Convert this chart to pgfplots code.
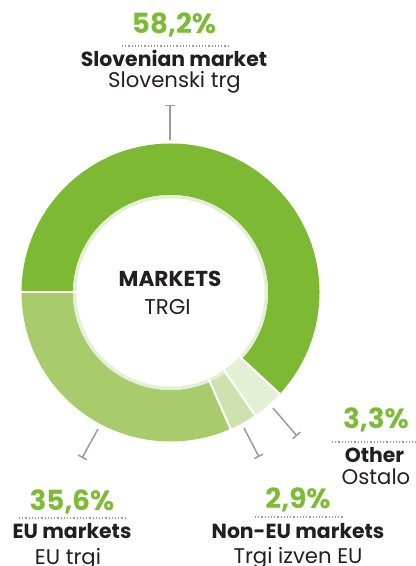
\documentclass[border=0pt]{standalone}
\usepackage{pgfplots}
\pgfplotsset{compat=1.18}
\usepackage{pgfplotstable}
\usepackage{fontspec}
\setmainfont{Poppins}
\usetikzlibrary{calc,arrows.meta}
\definecolor{cSlo}{HTML}{7DB933}
\definecolor{cEU}{HTML}{A8CC6C}
\definecolor{cNon}{HTML}{CDE2AE}
\definecolor{cOth}{HTML}{E4F0D6}
\definecolor{cRing}{HTML}{E4F0D6}
\definecolor{cPct}{HTML}{7DBB35}
\definecolor{cTxt}{HTML}{231F20}
\definecolor{cLead}{HTML}{9B9B9B}
\pgfplotstableread{
name share
Slovenian 61.9
Other 3.5
NonEU 3.0
EU 31.6
}\shares
\begin{document}
\begin{tikzpicture}
\pgfplotstablegetelem{0}{share}\of\shares \let\sA\pgfplotsretval
\pgfplotstablegetelem{1}{share}\of\shares \let\sB\pgfplotsretval
\pgfplotstablegetelem{2}{share}\of\shares \let\sC\pgfplotsretval
\pgfplotstablegetelem{3}{share}\of\shares \let\sD\pgfplotsretval
\pgfmathsetmacro\aA{180}
\pgfmathsetmacro\aB{\aA-3.6*\sA}
\pgfmathsetmacro\aC{\aB-3.6*\sB}
\pgfmathsetmacro\aD{\aC-3.6*\sC}
\pgfmathsetmacro\aE{\aD-3.6*\sD}
\def\Ro{74.5pt}
\def\Ri{48.75pt}
\def\Rw{47pt}
\newcommand\seg[3]{%
 \fill[#3] ($(axis cs:170.5,273.5)+(#1:\Ro)$) arc[start angle=#1, end angle=#2, radius=\Ro]
   -- ($(axis cs:170.5,273.5)+(#2:\Ri)$) arc[start angle=#2, end angle=#1, radius=\Ri] -- cycle;}
\newcommand\sep[1]{%
 \draw[white, line width=1pt] ($(axis cs:170.5,273.5)+(#1:\Rw)$) -- ($(axis cs:170.5,273.5)+(#1:\Ro+1pt)$);}
\begin{axis}[
  x=0.5pt, y=0.5pt,
  xmin=0, xmax=416, ymin=0, ymax=566,
  hide axis, clip=false,
  scale only axis,
]
\path[use as bounding box] (axis cs:0,0) rectangle (axis cs:416,566);
\seg{\aA}{\aB}{cSlo}
\seg{\aB}{\aC}{cOth}
\seg{\aC}{\aD}{cNon}
\seg{\aD}{\aE}{cEU}
\fill[cRing] (axis cs:170.5,273.5) circle[radius=\Ri];
\fill[white] (axis cs:170.5,273.5) circle[radius=\Rw];
\sep{\aA}\sep{\aB}\sep{\aC}\sep{\aD}
% leaders
\draw[cLead, line width=0.75pt, -{Bar[width=5pt, line width=0.75pt]}] (axis cs:170,426) -- (axis cs:170,461);
\draw[cLead, line width=0.75pt, -{Bar[width=5pt, line width=0.75pt]}] (axis cs:98,137) -- (axis cs:82,108);
\draw[cLead, line width=0.75pt, -{Bar[width=5pt, line width=0.75pt]}] (axis cs:244,138) -- (axis cs:259,109);
\draw[cLead, line width=0.75pt, -{Bar[width=5pt, line width=0.75pt]}] (axis cs:273,158) -- (axis cs:297,130);
% dotted rules
\tikzset{dotrule/.style={cLead, line width=0.55pt, dash pattern=on 0.55pt off 1.05pt}}
\draw[dotrule] (axis cs:122,520) -- (axis cs:228,520);
\draw[dotrule] (axis cs:332,124) -- (axis cs:416,124);
\draw[dotrule] (axis cs:255,49) -- (axis cs:344,49);
\draw[dotrule] (axis cs:19,48) -- (axis cs:125,48);
% texts
\tikzset{pct/.style={anchor=base, inner sep=0pt, text=cPct, font=\fontsize{13.9}{15}\selectfont\bfseries},
 lbl/.style={anchor=base, inner sep=0pt, text=cTxt, font=\fontsize{10.2}{12}\selectfont\bfseries},
 sub/.style={anchor=base, inner sep=0pt, text=cTxt, font=\fontsize{10.6}{12}\selectfont}}
\node[pct] at (axis cs:174,532) {58,2\%};
\node[lbl] at (axis cs:174,499) {Slovenian market};
\node[sub] at (axis cs:174.5,478) {Slovenski trg};
\node[pct] at (axis cs:376,137) {3,3\%};
\node[lbl] at (axis cs:374.5,103) {Other};
\node[sub] at (axis cs:376,81) {Ostalo};
\node[pct] at (axis cs:298,57) {2,9\%};
\node[lbl] at (axis cs:298,27) {Non-EU markets};
\node[sub] at (axis cs:298,3) {Trgi izven EU};
\node[pct] at (axis cs:72,55) {35,6\%};
\node[lbl] at (axis cs:72,27) {EU markets};
\node[sub] at (axis cs:68,2) {EU trgi};
\node[lbl, font=\fontsize{10.8}{12}\selectfont\bfseries] at (axis cs:170,279) {MARKETS};
\node[sub, font=\fontsize{10.7}{12}\selectfont] at (axis cs:167.5,251) {TRGI};
\end{axis}
\end{tikzpicture}
\end{document}
